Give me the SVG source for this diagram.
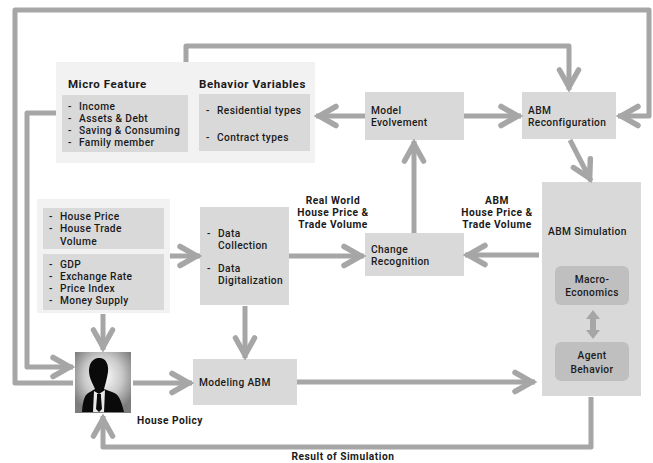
<svg xmlns="http://www.w3.org/2000/svg" width="653" height="463" viewBox="0 0 653 463">
<style>
text{font-family:Roboto,"Liberation Sans",sans-serif;font-size:10.2px;font-weight:500;letter-spacing:.38px;fill:#1a1a1a}
.b{font-weight:700;letter-spacing:.5px}
.h{font-weight:700;font-size:11.5px;letter-spacing:.55px}
.m{text-anchor:middle}
.lite{fill:#f2f2f2}
.box{fill:#d9d9d9}
.in{fill:#bfbfbf}
.c{fill:none;stroke:#a6a6a6;stroke-width:5;stroke-linejoin:round}
.a{marker-end:url(#h)}
</style>
<defs>
<marker id="h" markerUnits="userSpaceOnUse" viewBox="-22 -14 26 28" refX="2" refY="0" markerWidth="26" markerHeight="28" orient="auto">
<path d="M-18,-9.5 L-1,0 L-18,9.5" fill="none" stroke="#a6a6a6" stroke-width="5.5" stroke-linecap="round" stroke-linejoin="miter"/>
</marker>
<radialGradient id="pg" cx="50%" cy="40%" r="62%"><stop offset="0" stop-color="#fff"/><stop offset="0.55" stop-color="#c9c9c9"/><stop offset="1" stop-color="#7d7d7d"/></radialGradient>
</defs>
<rect width="653" height="463" fill="#fff"/>
<g id="micro-behavior">
<rect class="lite" x="56" y="62" width="259" height="101"/>
<text class="h" x="68" y="88">Micro Feature</text>
<rect class="box" x="62" y="95" width="126" height="57"/>
<text x="68" y="110"><tspan x="68">-</tspan><tspan x="68" dy="12">-</tspan><tspan x="68" dy="12">-</tspan><tspan x="68" dy="12">-</tspan></text>
<text x="79" y="110"><tspan x="79">Income</tspan><tspan x="79" dy="12">Assets &amp; Debt</tspan><tspan x="79" dy="12">Saving &amp; Consuming</tspan><tspan x="79" dy="12">Family member</tspan></text>
<text class="h" x="199" y="88">Behavior Variables</text>
<rect class="box" x="199" y="94" width="111" height="57"/>
<text x="206" y="114">-</text><text x="217" y="114">Residential types</text>
<text x="206" y="141">-</text><text x="217" y="141">Contract types</text>
</g>
<g id="model-evolvement">
<rect class="box" x="365" y="92" width="99" height="48"/>
<text x="371" y="114"><tspan x="371">Model</tspan><tspan x="371" dy="12">Evolvement</tspan></text>
</g>
<g id="abm-reconfiguration">
<rect class="box" x="522" y="92" width="94" height="47"/>
<text x="528" y="114"><tspan x="528">ABM</tspan><tspan x="528" dy="12">Reconfiguration</tspan></text>
</g>
<g id="abm-simulation">
<rect class="box" x="542" y="182" width="99" height="214"/>
<text x="548" y="235">ABM Simulation</text>
<rect class="in" x="555" y="266" width="74" height="39" rx="6"/>
<text class="m" x="592" y="283"><tspan x="592">Macro-</tspan><tspan x="592" dy="13">Economics</tspan></text>
<rect class="in" x="555" y="342" width="74" height="39" rx="6"/>
<text class="m" x="592" y="359"><tspan x="592">Agent</tspan><tspan x="592" dy="14">Behavior</tspan></text>
<path d="M593,310 L600,319 L596,319 L596,330 L600,330 L593,339 L586,330 L590,330 L590,319 L586,319 Z" fill="#a6a6a6"/>
</g>
<g id="change-recognition">
<rect class="box" x="365" y="233" width="99" height="43"/>
<text x="371" y="253"><tspan x="371">Change</tspan><tspan x="371" dy="12">Recognition</tspan></text>
</g>
<g id="indicators">
<rect class="lite" x="37" y="199" width="133" height="114"/>
<rect class="box" x="43" y="208" width="121" height="41"/>
<text x="49" y="220"><tspan x="49">-</tspan><tspan x="49" dy="12">-</tspan></text>
<text x="60" y="220"><tspan x="60">House Price</tspan><tspan x="60" dy="12">House Trade</tspan><tspan x="60" dy="13">Volume</tspan></text>
<rect class="box" x="43" y="254" width="121" height="56"/>
<text x="49" y="268"><tspan x="49">-</tspan><tspan x="49" dy="12">-</tspan><tspan x="49" dy="12">-</tspan><tspan x="49" dy="12">-</tspan></text>
<text x="60" y="268"><tspan x="60">GDP</tspan><tspan x="60" dy="12">Exchange Rate</tspan><tspan x="60" dy="12">Price Index</tspan><tspan x="60" dy="12">Money Supply</tspan></text>
</g>
<g id="data">
<rect class="box" x="200" y="207" width="89" height="98"/>
<text x="207" y="237">-</text><text x="218" y="237"><tspan x="218">Data</tspan><tspan x="218" dy="12">Collection</tspan></text>
<text x="207" y="272">-</text><text x="218" y="272"><tspan x="218">Data</tspan><tspan x="218" dy="12">Digitalization</tspan></text>
</g>
<g id="modeling-abm">
<rect class="box" x="193" y="359" width="104" height="46"/>
<text x="199" y="386">Modeling ABM</text>
</g>
<g id="house-policy">
<rect x="75" y="352" width="56" height="61" fill="url(#pg)"/>
<path d="M98,358 C105,357 109,363 108,372 C107,379 105,385 104,389 L112,392 C119,394 121,400 124,412 L82,412 C83,399 85,394 90,392 L95,389 C93,384 89,378 89,371 C89,364 92,359 98,358 Z" fill="#0a0a0a"/>
<path d="M94,391 L99,394 L105,390 L104,412 L93,412 Z" fill="#e8e8e8"/>
<path d="M97,394 L101,394 L101,397 L102,409 L99,412 L96,409 L97,397 Z" fill="#0a0a0a"/>
<text class="b" x="137" y="424">House Policy</text>
</g>
<g id="labels">
<text class="b m" x="333" y="204"><tspan x="333">Real World</tspan><tspan x="333" dy="12">House Price &amp;</tspan><tspan x="333" dy="12">Trade Volume</tspan></text>
<text class="b m" x="497" y="204"><tspan x="497">ABM</tspan><tspan x="497" dy="12">House Price &amp;</tspan><tspan x="497" dy="12">Trade Volume</tspan></text>
<text class="b m" x="343" y="460">Result of Simulation</text>
</g>
<g id="connectors">
<path class="c" d="M73,383 H15 V10 H649 V116 H618" marker-end="url(#h)"/>
<path class="c a" d="M186,62 V46 H569 V90"/>
<path class="c a" d="M56,113 H27 V367 H73"/>
<path class="c a" d="M365,116 H316"/>
<path class="c a" d="M464,116 H521"/>
<path class="c a" d="M414,233 V141"/>
<path class="c a" d="M570,140 L591,181"/>
<path class="c a" d="M289,256 H364"/>
<path class="c a" d="M539,255 H465"/>
<path class="c a" d="M170,256 H200"/>
<path class="c a" d="M103,314 V350"/>
<path class="c a" d="M245,306 V358"/>
<path class="c a" d="M133,383 H192"/>
<path class="c a" d="M297,382 H535"/>
<path class="c a" d="M591,397 V447 H103 V416"/>
</g>
</svg>
